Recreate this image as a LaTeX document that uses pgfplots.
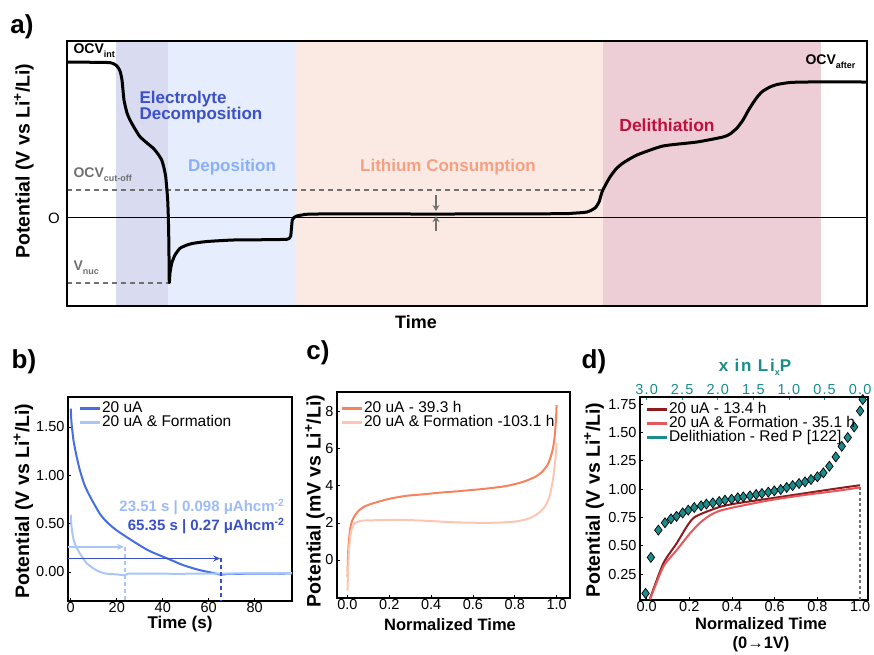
\documentclass[border=0pt]{standalone}
\usepackage{fontspec}
\setmainfont{Liberation Sans}
\usepackage{pgfplots}
\pgfplotsset{compat=1.18}
\usetikzlibrary{arrows.meta}

\newcommand{\fs}[1]{\fontsize{#1}{#1}\selectfont}
\newcommand{\lowsub}[1]{\raisebox{-4pt}{\fs{9}#1}}

\definecolor{bandLav}{HTML}{D9DBF0}
\definecolor{bandBlue}{HTML}{E6EDFC}
\definecolor{bandPeach}{HTML}{FBEAE3}
\definecolor{bandPink}{HTML}{EECED6}
\definecolor{txtDecomp}{HTML}{3C50C8}
\definecolor{txtDepo}{HTML}{8CB0F5}
\definecolor{txtCons}{HTML}{F5A082}
\definecolor{txtDelith}{HTML}{C0103C}
\definecolor{guide}{HTML}{707070}
\definecolor{blueD}{HTML}{466EE1}
\definecolor{blueL}{HTML}{A8C6F8}
\definecolor{annL}{HTML}{9DBCF5}
\definecolor{annD}{HTML}{3A50C8}
\definecolor{orD}{HTML}{F7835E}
\definecolor{orL}{HTML}{FDC6B2}
\definecolor{redD}{HTML}{8E1B1E}
\definecolor{redL}{HTML}{E5575A}
\definecolor{tealP}{HTML}{1A8C8C}

\pgfplotsset{
  panel/.style={
    scale only axis, anchor=south west,
    axis line style={line width=1.3pt},
    tick style={black, line width=0.8pt},
    major tick length=3pt, tick align=inside,
    xtick pos=bottom, ytick pos=left,
    tick label style={font=\fs{14.5}},
    xticklabel style={inner sep=1.5pt},
    /pgf/number format/assume math mode=true,
    legend cell align=left,
    legend style={draw=none, fill=none, font=\fs{15.5}, inner sep=0pt, row sep=0pt,
      nodes={inner sep=0.8pt, text height=10pt, text depth=2.5pt}},
    legend image code/.code={\draw[#1, line width=3pt] (0pt,0pt) -- (20pt,0pt);},
  },
}

\begin{document}
\begin{tikzpicture}
\useasboundingbox (0,0) rectangle (874pt,-654pt);

% ---------------- a) schematic ----------------
\begin{axis}[scale only axis, at={(67pt,-41pt)}, anchor=north west,
  width=800pt, height=265pt, xmin=0, xmax=800, ymin=0, ymax=265,
  xtick=\empty, ytick=\empty, axis on top, axis line style={line width=1.5pt}]
\addplot[fill=bandLav, draw=none] coordinates {(49,265) (101,265)} \closedcycle;
\addplot[fill=bandBlue, draw=none] coordinates {(101,265) (228,265)} \closedcycle;
\addplot[fill=bandPeach, draw=none] coordinates {(228,265) (536,265)} \closedcycle;
\addplot[fill=bandPink, draw=none] coordinates {(536,265) (754,265)} \closedcycle;
\addplot[black, line width=1pt] coordinates {(0,88.7) (800,88.7)};
\addplot[guide, line width=1.6pt, dash pattern=on 5pt off 4pt] coordinates {(0,116) (535,116)};
\addplot[guide, line width=1.6pt, dash pattern=on 5pt off 4pt] coordinates {(0,23) (102,23)};
\addplot[black, line width=3pt, smooth, tension=0.35, line join=round] coordinates {
 (0,244)(40,243.5)(46,242.5)(50,240)(53,235)(55,226)(57,206)(60,193)(63,186)(68,177)
 (73,169.3)(80,163)(86.3,157.7)(91,152)(94.7,146)(97,138)(98.7,129.3)(100,115)(100.7,106)
 (101.3,90)(101.7,72.7)(102,50)(102.3,23.3)(103,33)(104.7,42.7)(108,51)(113,57.7)(120,61)
 (126.3,62.7)(140,64.5)(166.3,66)(200,66.3)(219.7,66.7)(222.5,68)(223.7,70)(224.5,78)
 (225.3,86)(227,88.5)(229.7,90)(235,91)(249.7,92)(383,92)(493,92.3)(506,92.8)(520,94)
 (528,98)(532,104)(535,114)(539,122)(543,129)(549,137)(556,143)(570,151)(596,160)
 (630,164)(656,169)(663,172)(670,178)(676,186)(681,195)(686,203)(691,210)(696,215)
 (703,219)(710,221.5)(723,223.5)(740,224)(800,224)};
\draw[guide, line width=2pt, -{Stealth[length=6pt, width=7pt]}] (axis cs:369,111) -- (axis cs:369,95);
\draw[guide, line width=2pt, -{Stealth[length=6pt, width=7pt]}] (axis cs:369,75) -- (axis cs:369,90);
\end{axis}

\node[font=\bfseries\fs{26}] at (22pt,-27pt) {a)};
\node[rotate=90, font=\bfseries\fs{19.5}] at (24pt,-161pt) {Potential (V vs Li\textsuperscript{+}/Li)};
\node[font=\bfseries\fs{18}] at (416pt,-322pt) {Time};
\node[font=\fs{15}] at (54pt,-218pt) {O};
\node[anchor=west, font=\bfseries\fs{14}] at (70pt,-51pt) {OCV\lowsub{int}};
\node[anchor=west, font=\bfseries\fs{14}] at (802pt,-62pt) {OCV\lowsub{after}};
\node[anchor=west, font=\bfseries\fs{14}, text=guide] at (70pt,-175pt) {OCV\lowsub{cut-off}};
\node[anchor=west, font=\bfseries\fs{14}, text=guide] at (70pt,-268pt) {V\lowsub{nuc}};
\node[anchor=west, align=left, font=\bfseries\fs{17}, text=txtDecomp] at (136pt,-107pt) {Electrolyte\\[-0.5pt]Decomposition};
\node[font=\bfseries\fs{17}, text=txtDepo] at (232pt,-167.5pt) {Deposition};
\node[font=\bfseries\fs{17}, text=txtCons] at (448pt,-167.5pt) {Lithium Consumption};
\node[font=\bfseries\fs{17.5}, text=txtDelith] at (667pt,-125pt) {Delithiation};

% ---------------- b) nucleation transients ----------------
\begin{axis}[panel, at={(68pt,-601pt)}, width=224pt, height=204pt,
  xmin=-1.2, xmax=96.2, ymin=-0.30, ymax=1.81,
  xtick={0,20,40,60,80}, ytick={0,0.5,1,1.5},
  yticklabel style={/pgf/number format/.cd, fixed, fixed zerofill, precision=2},
  legend style={at={(0.045,0.98)}, anchor=north west}]
\addplot[blueD, line width=2pt, smooth, tension=0.4] coordinates {
 (0,1.69)(0.3,1.55)(1.2,1.36)(2.5,1.2)(4,1.05)(6,0.9)(8.4,0.78)(12.7,0.60)(16,0.51)
 (20,0.43)(27,0.32)(34,0.22)(42,0.14)(49,0.07)(56,0.02)(62,-0.01)(65.3,-0.028)(68,-0.02)
 (75,-0.018)(96.2,-0.015)};
\addlegendentry{20 uA}
\addplot[blueL, line width=2pt, smooth, tension=0.4] coordinates {
 (0,0.59)(0.3,0.48)(1,0.36)(2,0.28)(4,0.19)(7,0.09)(11,0.02)(15,-0.015)(20,-0.025)
 (23.5,-0.032)(25,-0.018)(30,-0.017)(50,-0.018)(96.2,-0.012)};
\addlegendentry{20 uA \& Formation}
\draw[blueL, line width=1.8pt, -{Stealth[length=7pt, width=6pt]}] (axis cs:-1.2,0.26) -- (axis cs:23.2,0.26);
\draw[blueL, line width=1.8pt, dash pattern=on 4pt off 3pt] (axis cs:23.51,0.26) -- (axis cs:23.51,-0.30);
\draw[annD, line width=1.8pt, -{Stealth[length=7pt, width=6pt]}] (axis cs:-1.2,0.14) -- (axis cs:65,0.14);
\draw[annD, line width=1.8pt, dash pattern=on 4pt off 3pt] (axis cs:65.35,0.14) -- (axis cs:65.35,-0.30);
\end{axis}

\node[font=\bfseries\fs{26}] at (24pt,-362pt) {b)};
\node[rotate=90, font=\bfseries\fs{19.5}] at (23.5pt,-501pt) {Potential (V vs Li\textsuperscript{+}/Li)};
\node[font=\bfseries\fs{17}] at (180pt,-624pt) {Time (s)};
\node[anchor=east, font=\bfseries\fs{15}, text=annL] at (288pt,-507pt) {23.51 s | 0.098 μAhcm\textsuperscript{-2}};
\node[anchor=east, font=\bfseries\fs{15}, text=annD] at (288pt,-526pt) {65.35 s | 0.27 μAhcm\textsuperscript{-2}};

% ---------------- c) plating overpotential ----------------
\begin{axis}[panel, at={(337pt,-598pt)}, width=233pt, height=206pt,
  xmin=-0.05, xmax=1.064, ymin=-2.05, ymax=9.06,
  xtick={0,0.2,0.4,0.6,0.8,1}, ytick={0,2,4,6,8},
  xticklabel style={/pgf/number format/.cd, fixed, fixed zerofill, precision=1},
  legend style={at={(0.013,0.955)}, anchor=north west}]
\addplot[orD, line width=2pt, smooth, tension=0.4] coordinates {
 (0,-0.9)(0.003,0.3)(0.006,0.9)(0.01,1.4)(0.015,1.8)(0.022,2.1)(0.03,2.3)(0.045,2.55)
 (0.06,2.72)(0.08,2.88)(0.12,3.05)(0.2,3.3)(0.28,3.46)(0.36,3.54)(0.44,3.63)(0.52,3.70)
 (0.6,3.78)(0.68,3.87)(0.76,3.99)(0.82,4.15)(0.86,4.3)(0.9,4.5)(0.93,4.75)(0.955,5.1)
 (0.97,5.5)(0.982,6.0)(0.99,6.6)(0.996,7.4)(1.0,8.35)};
\addlegendentry{20 uA - 39.3 h}
\addplot[orL, line width=2pt, smooth, tension=0.4] coordinates {
 (0,-1.65)(0.003,-0.6)(0.006,0.3)(0.01,0.9)(0.015,1.4)(0.022,1.75)(0.03,1.92)(0.045,2.05)
 (0.06,2.1)(0.08,2.13)(0.2,2.16)(0.3,2.15)(0.4,2.1)(0.5,2.04)(0.6,2.01)(0.7,2.01)(0.8,2.07)
 (0.85,2.18)(0.88,2.3)(0.91,2.5)(0.935,2.75)(0.955,3.1)(0.97,3.6)(0.982,4.3)(0.99,5.0)
 (0.996,5.7)(1.0,6.3)};
\addlegendentry{20 uA \& Formation -103.1 h}
\end{axis}

\node[font=\bfseries\fs{26}] at (318pt,-353pt) {c)};
\node[rotate=90, font=\bfseries\fs{19.5}] at (315pt,-501pt) {Potential (mV vs Li\textsuperscript{+}/Li)};
\node[font=\bfseries\fs{16.5}] at (450pt,-625pt) {Normalized Time};

% ---------------- d) delithiation ----------------
\begin{axis}[panel, at={(640pt,-600pt)}, width=228pt, height=203pt,
  xmin=-0.031, xmax=1.037, ymin=0.021, ymax=1.814,
  xtick={0,0.2,0.4,0.6,0.8,1}, ytick={0.25,0.5,0.75,1,1.25,1.5,1.75},
  xticklabel style={/pgf/number format/.cd, fixed, fixed zerofill, precision=1},
  yticklabel style={/pgf/number format/.cd, fixed, fixed zerofill, precision=2},
  legend style={at={(0.022,0.975)}, anchor=north west}]
\addplot[guide, line width=1.3pt, dash pattern=on 3pt off 2.5pt, forget plot] coordinates {(1,1.02) (1,0.021)};
\addplot[redD, line width=2pt, smooth, tension=0.4] coordinates {
 (0.016,0.035)(0.078,0.344)(0.14,0.52)(0.1875,0.668)(0.22,0.747)(0.266,0.79)(0.344,0.844)
 (0.42,0.874)(0.578,0.918)(0.734,0.962)(0.89,1.006)(1.0,1.035)};
\addlegendentry{20 uA - 13.4 h}
\addplot[redL, line width=2pt, smooth, tension=0.4] coordinates {
 (0.016,0.026)(0.078,0.315)(0.14,0.46)(0.203,0.609)(0.25,0.703)(0.297,0.77)(0.344,0.81)
 (0.42,0.844)(0.578,0.903)(0.734,0.947)(0.89,0.985)(1.0,1.015)};
\addlegendentry{20 uA \& Formation - 35.1 h}
\addplot[only marks, mark=diamond*, mark size=5pt, mark options={fill=tealP, draw=black, line width=0.7pt}, forget plot] coordinates {
 (-0.005,0.08)(0.02,0.397)(0.055,0.638)(0.086,0.703)(0.114,0.738)(0.14,0.76)(0.169,0.79)
 (0.195,0.815)(0.223,0.838)(0.255,0.853)(0.28,0.868)(0.31,0.879)(0.34,0.891)(0.367,0.903)
 (0.398,0.912)(0.427,0.924)(0.453,0.932)(0.484,0.941)(0.513,0.953)(0.54,0.962)(0.57,0.974)
 (0.598,0.985)(0.628,0.997)(0.656,1.015)(0.684,1.032)(0.714,1.05)(0.742,1.065)(0.77,1.085)
 (0.8,1.109)(0.828,1.144)(0.856,1.203)(0.886,1.285)(0.914,1.379)(0.942,1.456)(0.972,1.55)
 (1.0,1.691)(1.0125,1.791)};
\addlegendimage{tealP}
\addlegendentry{Delithiation - Red P [122]}
\end{axis}

% top scale: lithium content
\begin{axis}[scale only axis, anchor=south west, at={(640pt,-600pt)}, width=228pt, height=203pt,
  xmin=-0.111, xmax=3.093, x dir=reverse, ymin=0, ymax=1,
  axis x line*=top, axis y line=none, axis line style={line width=1.3pt},
  xtick={0,0.5,1,1.5,2,2.5,3}, major tick length=3pt, tick align=inside,
  tick style={tealP, line width=0.8pt},
  /pgf/number format/assume math mode=true,
  xticklabel style={text=tealP, inner sep=2pt, font=\fs{14.5}\addfontfeatures{LetterSpace=8},
    /pgf/number format/.cd, fixed, fixed zerofill, precision=1}]
\end{axis}

\node[font=\bfseries\fs{26}] at (594pt,-362pt) {d)};
\node[font=\bfseries\fs{17}, text=tealP] at (755pt,-367pt) {\addfontfeatures{LetterSpace=10}x in Li\lowsub{x}P};
\node[rotate=90, font=\bfseries\fs{19.5}] at (594pt,-500pt) {Potential (V vs Li\textsuperscript{+}/Li)};
\node[font=\bfseries\fs{16.5}] at (761pt,-624pt) {Normalized Time};
\node[font=\bfseries\fs{16.5}] at (761pt,-644pt) {(0→1V)};
\end{tikzpicture}
\end{document}
